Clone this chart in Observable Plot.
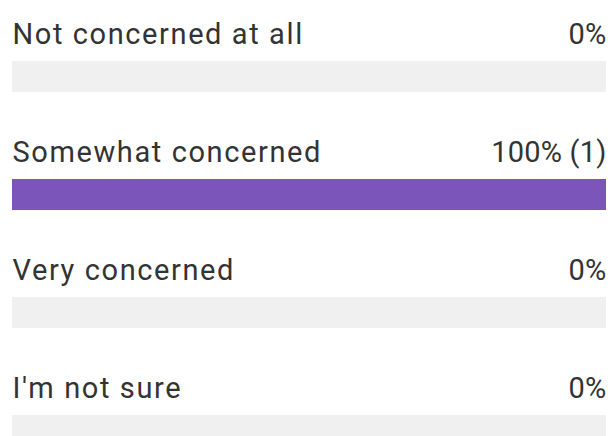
<!DOCTYPE html>
<html>
<head>
<meta charset="utf-8">
<script src="https://cdn.jsdelivr.net/npm/d3@7"></script>
<script src="https://cdn.jsdelivr.net/npm/@observablehq/plot@0.6"></script>
<style>
  html, body { margin: 0; padding: 0; background: #fff; overflow: hidden; }
  #chart { width: 610px; height: 436px; overflow: hidden; }
  .lbl text { letter-spacing: 1.6px; }
  .val text { letter-spacing: 0.2px; }
</style>
</head>
<body>
<div id="chart"></div>
<script>
const categories = ["Not concerned at all", "Somewhat concerned", "Very concerned", "I'm not sure"];
const percents = [0, 100, 0, 0];
const counts = [0, 1, 0, 0];

const data = categories.map((c, i) => ({category: c, pct: percents[i], count: counts[i]}));
const fmt = d => d.count > 0 ? `${d.pct}% (${d.count})` : `${d.pct}%`;

const chart = Plot.plot({
  width: 610,
  height: 436,
  margin: 0,
  style: {fontFamily: "Roboto, 'Liberation Sans', sans-serif", background: "#fff"},
  x: {domain: [0, 100], range: [12, 606], axis: null},
  y: {type: "band", domain: categories, range: [0, 472], padding: 0, axis: null},
  marks: [
    Plot.barX(data, {x1: 0, x2: 100, y: "category", fill: "#f0f0f0", insetTop: 61, insetBottom: 26}),
    Plot.barX(data, {x1: 0, x2: "pct", y: "category", fill: "#7b55b9", insetTop: 61, insetBottom: 26}),
    Plot.text(data, {x: 0, y: "category", text: "category", textAnchor: "start", lineAnchor: "middle", dy: -25, fontSize: 29, fill: "#333", className: "lbl"}),
    Plot.text(data, {x: 100, y: "category", text: fmt, textAnchor: "end", lineAnchor: "middle", dy: -25, dx: 0, fontSize: 29, fill: "#333", className: "val"})
  ]
});
document.getElementById("chart").appendChild(chart);
</script>
</body>
</html>
